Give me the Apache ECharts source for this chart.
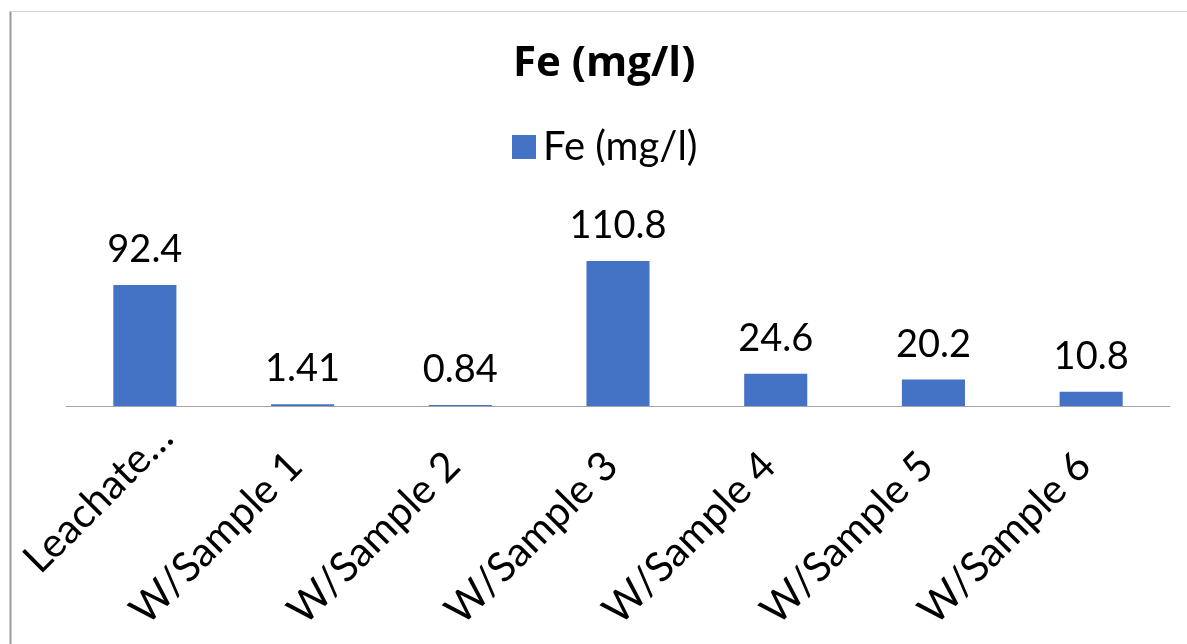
<!DOCTYPE html>
<html>
<head>
<meta charset="utf-8">
<script src="https://cdn.jsdelivr.net/npm/echarts@6/dist/echarts.min.js"></script>
<style>
  html, body { margin: 0; padding: 0; background: #fff; }
  #chart { width: 1187px; height: 644px; }
</style>
</head>
<body>
<div id="chart"></div>
<script>
// Iron concentration per sample
const categories = ['Leachate…', 'W/Sample 1', 'W/Sample 2', 'W/Sample 3', 'W/Sample 4', 'W/Sample 5', 'W/Sample 6'];
const feValues = [92.4, 1.41, 0.84, 110.8, 24.6, 20.2, 10.8];
const seriesName = 'Fe (mg/l)';
const chartTitle = 'Fe (mg/l)';

const FONT = 'Lato, "Open Sans", sans-serif';
const chart = echarts.init(document.getElementById('chart'));

// The shortened first label sits further along its slant than the rest
const axisCategories = categories.map((name, i) => (
  i === 0 ? { value: name, textStyle: { padding: [0, -30, 0, 0] } } : name
));

chart.setOption({
  animation: false,
  backgroundColor: '#fff',
  title: {
    text: chartTitle,
    left: 508,
    top: 38,
    textStyle: { fontFamily: '"Open Sans", Lato, sans-serif', fontSize: 42, fontWeight: 'bold', color: '#000' }
  },
  legend: {
    data: [seriesName],
    top: 122,
    left: 507,
    itemWidth: 24,
    itemHeight: 24,
    itemGap: 10,
    icon: 'rect',
    textStyle: { fontFamily: FONT, fontSize: 40, color: '#000', padding: [0, 0, 0, 2] }
  },
  grid: { left: 66, right: 17, top: 249, bottom: 238, containLabel: false, outerBoundsMode: 'none' },
  xAxis: {
    type: 'category',
    data: axisCategories,
    axisLine: { lineStyle: { color: '#a6a6a6', width: 1 } },
    axisTick: { show: false },
    axisLabel: {
      rotate: 45,
      interval: 0,
      margin: 46,
      padding: [0, 10, 0, 0],
      fontFamily: FONT,
      fontSize: 41,
      color: '#000'
    }
  },
  yAxis: {
    type: 'value',
    min: 0,
    max: 120,
    interval: 20,
    show: false,
    splitLine: { show: false }
  },
  series: [{
    name: seriesName,
    type: 'bar',
    data: feValues,
    barWidth: '40%',
    itemStyle: { color: '#4472C4' },
    label: {
      show: true,
      position: 'top',
      distance: 16,
      fontFamily: FONT,
      fontSize: 38,
      color: '#000'
    }
  }],
  graphic: [
    { type: 'line', shape: { x1: 10.5, y1: 11, x2: 10.5, y2: 644 }, style: { stroke: '#9a9a9a', lineWidth: 2 } },
    { type: 'line', shape: { x1: 10, y1: 11.5, x2: 1187, y2: 11.5 }, style: { stroke: '#d4d4d4', lineWidth: 1 } }
  ]
});
</script>
</body>
</html>
